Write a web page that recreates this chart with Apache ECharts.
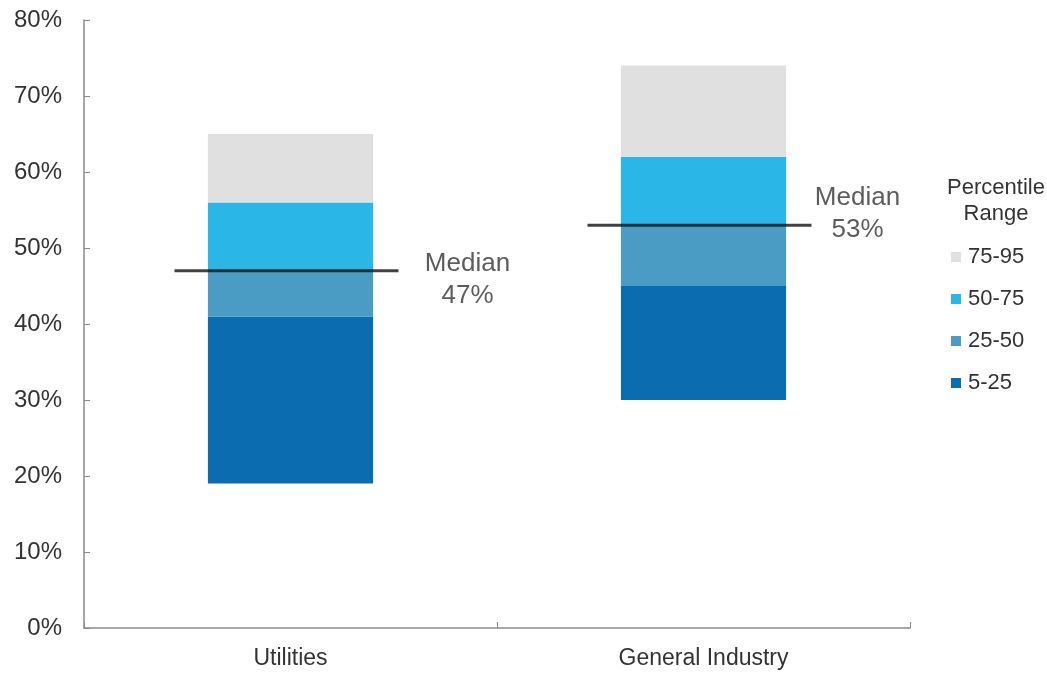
<!DOCTYPE html>
<html>
<head>
<meta charset="utf-8">
<script src="https://cdn.jsdelivr.net/npm/echarts@6/dist/echarts.min.js"></script>
<style>
html,body{margin:0;padding:0;background:#fff;}
#chart{width:1047px;height:675px;}
</style>
</head>
<body>
<div id="chart"></div>
<script>
var categories = ['Utilities', 'General Industry'];
var p5  = [19, 30];
var p25 = [41, 45];
var p50 = [47, 53];
var p75 = [56, 62];
var p95 = [65, 74];
var medianLabels = ['Median\n47%', 'Median\n53%'];
var yTicks = [0, 10, 20, 30, 40, 50, 60, 70, 80];
var rangeNames = ['5-25', '25-50', '50-75', '75-95'];
var colors = { '5-25': '#0b6db0', '25-50': '#4b9cc4', '50-75': '#2bb6e8', '75-95': '#e0e0e0' };

function diff(a, b) { return a.map(function (v, i) { return b[i] - v; }); }

var font = 'Liberation Sans, Arial, sans-serif';
var chart = echarts.init(document.getElementById('chart'));

var seriesSegs = [
  { name: '5-25', data: diff(p5, p25) },
  { name: '25-50', data: diff(p25, p50) },
  { name: '50-75', data: diff(p50, p75) },
  { name: '75-95', data: diff(p75, p95) }
].map(function (s) {
  return {
    name: s.name, type: 'bar', stack: 'r', barWidth: '40%',
    itemStyle: { color: colors[s.name] },
    data: s.data, silent: true
  };
});

var medOffsets = [[181, 9], [158, -11]];

var option = {
  animation: false,
  textStyle: { fontFamily: font },
  grid: { left: 84, right: 137, top: 20, bottom: 47 },
  title: {
    text: 'Percentile\nRange', left: 991, top: 170, textAlign: 'center',
    textStyle: { fontFamily: font, fontSize: 22, fontWeight: 'normal', color: '#333', lineHeight: 26 }
  },
  legend: {
    orient: 'vertical', left: 946, top: 241, itemWidth: 10, itemHeight: 10, itemGap: 20,
    data: ['75-95', '50-75', '25-50', '5-25'],
    icon: 'rect',
    textStyle: { fontFamily: font, fontSize: 22, color: '#333', padding: [0, 0, 0, 2] }
  },
  xAxis: {
    type: 'category', data: categories,
    axisLine: { lineStyle: { color: '#8a8a8a', width: 1.5 } },
    axisTick: { show: true, inside: true, length: 6, lineStyle: { color: '#8a8a8a' } },
    axisLabel: { fontFamily: font, fontSize: 23, color: '#333', margin: 19 },
    splitLine: { show: false }
  },
  yAxis: {
    type: 'value', min: yTicks[0], max: yTicks[yTicks.length - 1], interval: 10,
    axisLine: { show: true, lineStyle: { color: '#8a8a8a', width: 1.5 } },
    axisTick: { show: true, inside: true, length: 6, lineStyle: { color: '#8a8a8a' } },
    axisLabel: { fontFamily: font, fontSize: 24, color: '#333', margin: 22, formatter: '{value}%' },
    splitLine: { show: false }
  },
  series: [
    { name: 'base', type: 'bar', stack: 'r', barWidth: '40%', itemStyle: { color: 'transparent' }, data: p5, silent: true }
  ].concat(seriesSegs).concat([
    {
      name: 'Median', type: 'scatter', symbol: 'rect', symbolSize: [224, 3],
      symbolOffset: [-4, 0], z: 5,
      itemStyle: { color: '#111' },
      data: p50.map(function (v, i) {
        return {
          value: [categories[i], v],
          label: {
            show: true, position: 'inside', offset: medOffsets[i],
            formatter: medianLabels[i], align: 'center', verticalAlign: 'middle',
            fontFamily: font, fontSize: 26, color: '#333', lineHeight: 32
          }
        };
      })
    }
  ])
};
chart.setOption(option);
</script>
</body>
</html>
